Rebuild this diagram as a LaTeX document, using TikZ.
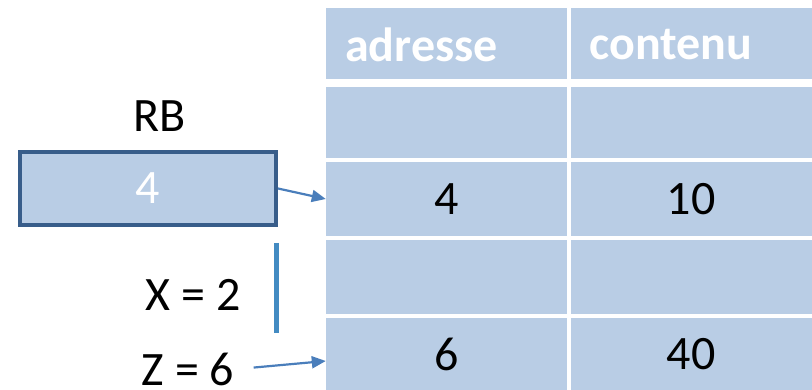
\documentclass[tikz,border=0pt]{standalone}
\usepackage{fontspec}
\setmainfont{Carlito}
\usepackage{tikz}
\usepackage{xcolor}
\usetikzlibrary{arrows.meta}

\definecolor{cellblue}{HTML}{B9CDE5}
\definecolor{regedge}{HTML}{385D8A}
\definecolor{linkblue}{HTML}{4A7EBB}

\begin{document}
\begin{tikzpicture}[x=1pt, y=-1pt,
    every node/.style={font=\fontsize{48}{54}\selectfont},
    cell/.style={fill=cellblue, inner sep=0pt, minimum width=241pt, minimum height=73pt},
    headcell/.style={cell, text=white, font=\fontsize{48}{54}\selectfont\bfseries,
      text width=203pt, inner xsep=19pt, align=left},
    link/.style={linkblue, line width=2.2pt, -{Triangle[length=14pt,width=12pt]}}]
  \useasboundingbox (0,0) rectangle (812,390);

  % Memory table: header row
  \node[headcell] (h1) at (446.5,44.5) {adresse};
  \node[headcell] (h2) at (691,44.5)   {contenu};
  \fill[white] (326,79) rectangle (812,87);

  % Memory table: address / content rows
  \node[cell, minimum height=71pt] (a1) at (446.5,122.5) {};
  \node[cell, minimum height=71pt] (c1) at (691,122.5)   {};
  \node[cell, minimum height=74pt] (a2) at (446.5,199)   {4};
  \node[cell, minimum height=74pt] (c2) at (691,199)     {10};
  \node[cell, minimum height=74pt] (a3) at (446.5,277)   {};
  \node[cell, minimum height=74pt] (c3) at (691,277)     {};
  \node[cell, minimum height=72pt] (a4) at (446.5,354)   {6};
  \node[cell, minimum height=72pt] (c4) at (691,354)     {40};

  % Base register
  \node[draw=regedge, line width=4pt, fill=cellblue, text=white,
        minimum width=256pt, minimum height=73pt, inner sep=0pt] (reg) at (148,188.5) {4};
  \node (regname) at (160,116) {RB};

  % Offset bar and variables
  \draw[color=linkblue!90!cyan, line width=5pt] (276,243) -- (276,333);
  \node (xvar) at (193,295) {X = 2};
  \node (zvar) at (188,369) {Z = 6};

  % Links into the table
  \draw[link] (reg.east) -- (a2.west);
  \draw[link, shorten <=16pt] (zvar.east) -- ([yshift=-7pt]a4.west);
\end{tikzpicture}
\end{document}
